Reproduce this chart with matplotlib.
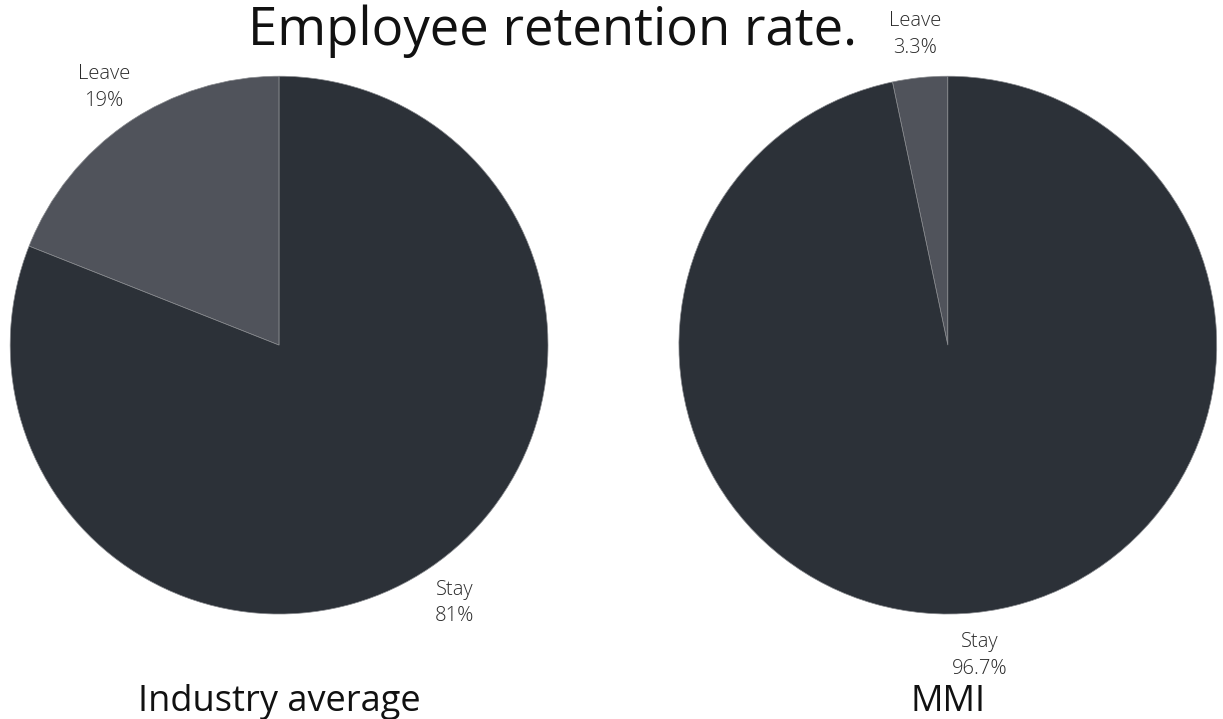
import matplotlib
matplotlib.use('Agg')
import matplotlib.pyplot as plt

# Daten
categories = ['Leave', 'Stay']
industry_values = [19, 81]
industry_labels = ['Leave\n19%', 'Stay\n81%']
mmi_values = [3.3, 96.7]
mmi_labels = ['Leave\n3.3%', 'Stay\n96.7%']
titles = ['Industry average', 'MMI']

colors = ['#50535b', '#2c3138']

fig = plt.figure(figsize=(12.23, 7.19), dpi=100)
fig.patch.set_facecolor('white')

axes_pos = [[0.0082, 0.146, 0.440, 0.748], [0.555, 0.146, 0.440, 0.748]]
data = [(industry_values, industry_labels), (mmi_values, mmi_labels)]

for pos, (vals, labs), title in zip(axes_pos, data, titles):
    ax = fig.add_axes(pos)
    ax.pie(vals, labels=labs, colors=colors, startangle=90, counterclock=True,
           labeldistance=1.16,
           wedgeprops=dict(edgecolor='#8a8c90', linewidth=0.5),
           textprops=dict(ha='center', va='center', fontsize=14.5,
                          family='Open Sans', fontweight='light', color='#2a2a2a',
                          linespacing=1.45))
    ax.set_xlim(-1, 1)
    ax.set_ylim(-1, 1)
    ax.set_aspect('equal')
    cx = pos[0] + pos[2] / 2
    fig.text(cx, 0.024, title, ha='center', va='center', fontsize=26,
             family='Open Sans', color='#111111')

fig.text(0.452, 0.957, 'Employee retention rate.', ha='center', va='center',
         fontsize=38, family='Open Sans', color='#111111')

plt.savefig('out.png', dpi=100)
